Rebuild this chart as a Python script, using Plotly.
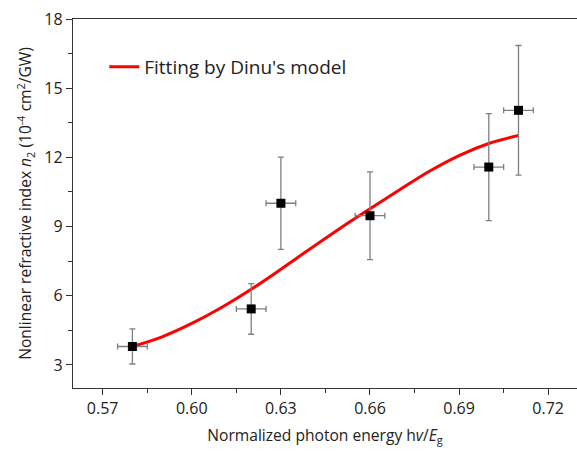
import plotly.graph_objects as go

# Measured data
x_data = [0.58, 0.62, 0.63, 0.66, 0.70, 0.71]
y_data = [3.80, 5.43, 10.01, 9.47, 11.58, 14.04]
y_err = [0.76, 1.10, 2.00, 1.90, 2.32, 2.81]
x_err = [0.005, 0.005, 0.005, 0.005, 0.005, 0.005]

# Fitted curve (Dinu's model)
x_fit = [0.58, 0.59, 0.60, 0.61, 0.62, 0.63, 0.64, 0.65, 0.66, 0.67, 0.68, 0.69, 0.70, 0.71]
y_fit = [3.80, 4.22, 4.80, 5.49, 6.28, 7.15, 8.05, 8.93, 9.77, 10.60, 11.40, 12.08, 12.60, 12.95]

x_ticks = [0.57, 0.60, 0.63, 0.66, 0.69, 0.72]
x_tick_labels = ["0.57", "0.60", "0.63", "0.66", "0.69", "0.72"]
y_ticks = [3, 6, 9, 12, 15, 18]
y_tick_labels = ["3", "6", "9", "12", "15", "18"]

FONT = "Open Sans"

fig = go.Figure()
fig.add_trace(go.Scatter(
    x=x_fit, y=y_fit, mode="lines", line=dict(color="#ff0000", width=3, shape="spline", smoothing=1.0),
    name="Fitting by Dinu's model", showlegend=True,
))
fig.add_trace(go.Scatter(
    x=x_data, y=y_data, mode="markers",
    marker=dict(symbol="square", size=9, color="black"),
    error_y=dict(type="data", array=y_err, color="#7f7f7f", thickness=1.3, width=3),
    error_x=dict(type="data", array=x_err, color="#7f7f7f", thickness=1.3, width=3),
    showlegend=False,
))

fig.update_layout(
    width=577, height=452,
    margin=dict(l=73, r=0, t=19, b=64),
    paper_bgcolor="white", plot_bgcolor="white",
    font=dict(family=FONT, color="#222222"),
    legend=dict(x=0.062, y=0.87, xanchor="left", yanchor="middle",
                font=dict(size=19, family=FONT, color="#222222"),
                bgcolor="rgba(0,0,0,0)"),
    xaxis=dict(
        range=[0.56, 0.7297], showgrid=False, zeroline=False,
        showline=True, linecolor="#333333", linewidth=1.3, mirror=True,
        ticks="outside", ticklen=6, tickwidth=1.3, tickcolor="#333333",
        tickvals=x_ticks, ticktext=x_tick_labels, tickfont=dict(size=16),
        minor=dict(dtick=0.015, tick0=0.555, ticks="outside", ticklen=4, tickwidth=1.3, tickcolor="#333333"),
        title=dict(text="Normalized photon energy h<i>v</i>/<i>E</i><sub>g</sub>", font=dict(size=15.6), standoff=11),
    ),
    yaxis=dict(
        range=[2, 18], showgrid=False, zeroline=False,
        showline=True, linecolor="#333333", linewidth=1.3, mirror=False,
        ticks="outside", ticklen=6, tickwidth=1.3, tickcolor="#333333",
        tickvals=y_ticks, ticktext=y_tick_labels, tickfont=dict(size=16),
        minor=dict(dtick=1.5, tick0=0, ticks="outside", ticklen=4, tickwidth=1.3, tickcolor="#333333"),
        title=dict(text="Nonlinear refractive index <i>n</i><sub>2</sub> (10<sup>-4</sup> cm<sup>2</sup>/GW)",
                   font=dict(size=15.6), standoff=8),
    ),
)

fig.write_html("out.html")
